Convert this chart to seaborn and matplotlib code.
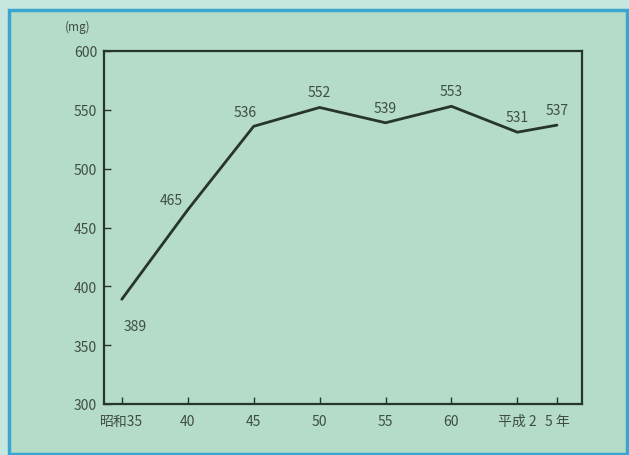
import matplotlib
matplotlib.use("Agg")
import matplotlib.pyplot as plt
from matplotlib.patches import Rectangle
import seaborn as sns
import pandas as pd

# Data: yearly values (mg)
years = [1960, 1965, 1970, 1975, 1980, 1985, 1990, 1993]
values = [389, 465, 536, 552, 539, 553, 531, 537]
tick_labels = ["昭和35", "40", "45", "50", "55", "60", "平成 2", "5 年"]
y_ticks = [300, 350, 400, 450, 500, 550, 600]

sns.set_theme(style="ticks")
plt.rcParams["font.family"] = ["Noto Sans CJK JP", "DejaVu Sans"]

panel_bg = "#b4dcc9"
outer_bg = "#c6e7df"
ink = "#26352d"
text_c = "#3f4d46"

fig = plt.figure(figsize=(6.29, 4.56), dpi=100)
fig.patch.set_facecolor(outer_bg)

# Framed panel behind the axes
fig.patches.append(Rectangle((9 / 629, 1 - 455 / 456), 618 / 629, 444 / 456,
                             transform=fig.transFigure, facecolor=panel_bg,
                             edgecolor="#3aa6cf", linewidth=2.5, zorder=-5))

ax = fig.add_axes([104 / 629, 1 - 405 / 456, 478 / 629, 353 / 456])
ax.set_zorder(2)
ax.set_facecolor(panel_bg)

df = pd.DataFrame({"year": years, "value": values})
sns.lineplot(data=df, x="year", y="value", ax=ax, color=ink, linewidth=2.0)

ax.set_xlim(1958.65, 1994.9)
ax.set_ylim(300, 600)
ax.set_xticks(years)
ax.set_xticklabels(tick_labels)
ax.set_yticks(y_ticks)
ax.set_xlabel("")
ax.set_ylabel("")
ax.tick_params(direction="in", length=5, width=1.0, color=ink,
               labelcolor=text_c, labelsize=10)
ax.tick_params(axis="y", pad=5)
ax.tick_params(axis="x", pad=7)
for s in ax.spines.values():
    s.set_color(ink)
    s.set_linewidth(1.6)

# Value labels
offsets = {389: (13, -27), 465: (-16, 10), 536: (-8, 14)}
for x, v in zip(years, values):
    dx, dy = offsets.get(v, (0, 15))
    ax.annotate(str(v), (x, v), xytext=(dx, dy), textcoords="offset pixels",
                ha="center", va="center", fontsize=10, color=text_c)

fig.text(78 / 629, 1 - 27 / 456, "(mg)", ha="center", va="center",
         fontsize=8.5, color=text_c)

fig.savefig("out.png", dpi=100, facecolor=fig.get_facecolor())
